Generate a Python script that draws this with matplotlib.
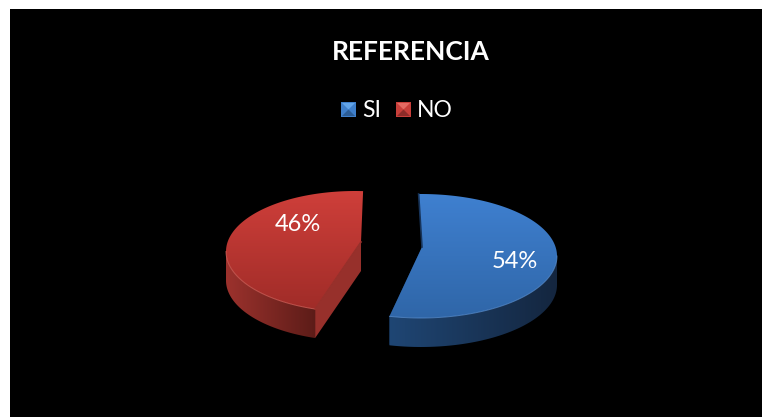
import numpy as np
import matplotlib
matplotlib.use("Agg")
import matplotlib.pyplot as plt
from matplotlib.patches import Polygon, Rectangle
from matplotlib.colors import LinearSegmentedColormap as LSC

# data
categories = ["SI", "NO"]
shares = [54, 46]
title = "REFERENCIA"

# layout (pixel space)
W, H = 762, 417
DEPTH = 29
SLICES = {
    "SI": dict(c=(421, 256), r=(136, 62), apex=(422, 247), rot=-1.0,
               top=["#3f80d0", "#2f66a8"], side=["#1f4674", "#14263f"], cut="#17345a",
               edge="#5c93d6", vis=(90, None)),
    "NO": dict(c=(355, 251.5), r=(129, 60.5), apex=(361, 242), rot=3.6,
               top=["#cf3f3a", "#a02c28"], side=["#9c322d", "#5c1c18"], cut="#97302b",
               edge="#e06a62", vis=(270, None)),
}

plt.rcParams["font.family"] = ["Lato", "DejaVu Sans"]
fig = plt.figure(figsize=(W / 100, H / 100), dpi=100, facecolor="white")
ax = fig.add_axes([0, 0, 1, 1])
ax.set_xlim(0, W)
ax.set_ylim(H, 0)
ax.axis("off")
ax.add_patch(Rectangle((10, 9), W - 10, H - 9, fc="black", ec="none", zorder=0))


def rim(s, deg):
    t = np.radians(deg)
    return np.column_stack([s["c"][0] + s["r"][0] * np.sin(t), s["c"][1] - s["r"][1] * np.cos(t)])


def gradient(poly, colors, horizontal, zorder):
    cmap = LSC.from_list("g", colors)
    g = np.linspace(0, 1, 256)
    g = g.reshape(1, -1) if horizontal else g.reshape(-1, 1)
    x0, y0 = poly.min(axis=0)
    x1, y1 = poly.max(axis=0)
    im = ax.imshow(g, cmap=cmap, extent=(x0, x1, y1, y0), aspect="auto", zorder=zorder, interpolation="bilinear")
    im.set_clip_path(Polygon(poly, closed=True, transform=ax.transData))


cum = 0.0
for name, val in zip(categories, shares):
    s = SLICES[name]
    sweep = val / sum(shares) * 360
    a0 = cum + s["rot"]
    a1 = a0 + sweep
    cum += sweep
    arc = rim(s, np.linspace(a0, a1, 200))
    top = np.vstack([s["apex"], arc])
    corner = rim(s, [a0 if name == "NO" else a1])[0]
    apex = np.array(s["apex"], float)
    drop = np.array([0, DEPTH])
    # outer wall
    vis = np.linspace(s["vis"][0], a1 if name == "SI" else a0, 120)
    wall = rim(s, vis)
    wall_poly = np.vstack([wall, (wall + drop)[::-1]])
    gradient(wall_poly, s["side"], True, 2)
    # cut wall
    ax.add_patch(Polygon([apex, corner, corner + drop, apex + drop], fc=s["cut"], ec="none", zorder=1 if name == "SI" else 3))
    gradient(top, s["top"], False, 4)
    ax.plot(*rim(s, vis).T, color=s["edge"], lw=0.7, alpha=0.7, zorder=5)
    ax.plot([rim(s, [a0])[0, 0], apex[0]], [rim(s, [a0])[0, 1], apex[1]],
            color=s["cut"], lw=1.2, zorder=5)
ax.set_xlim(0, W)
ax.set_ylim(H, 0)

# value labels
ax.text(298, 224.5, f"{shares[1]}%", color="white", fontsize=17, ha="center", va="center", zorder=6)
ax.text(514.5, 261.5, f"{shares[0]}%", color="white", fontsize=17, ha="center", va="center", zorder=6)

# title
ax.text(410.5, 51.5, title, color="white", fontsize=19, fontweight="bold", ha="center", va="center", zorder=6)


# legend
def key(x, y, n, mid, light, dark):
    ax.add_patch(Rectangle((x, y), n, n, fc=mid, ec="none", zorder=6))
    c = (x + n / 2, y + n / 2)
    ax.add_patch(Polygon([(x + 1, y + 1), (x + n - 1, y + 1), c], fc=light, ec="none", zorder=7))
    ax.add_patch(Polygon([(x + 1, y + n - 1), (x + n - 1, y + n - 1), c], fc=dark, ec="none", zorder=7))


key(341, 102, 15, "#3f7fca", "#62a4e8", "#2c5d96")
key(396, 102, 15, "#c83f3a", "#e46a62", "#8c2b28")
ax.text(362, 110.5, categories[0], color="white", fontsize=16.5, ha="left", va="center", zorder=6)
ax.text(417, 110.5, categories[1], color="white", fontsize=16.5, ha="left", va="center", zorder=6)

fig.savefig("out.png", dpi=100, facecolor="white")
